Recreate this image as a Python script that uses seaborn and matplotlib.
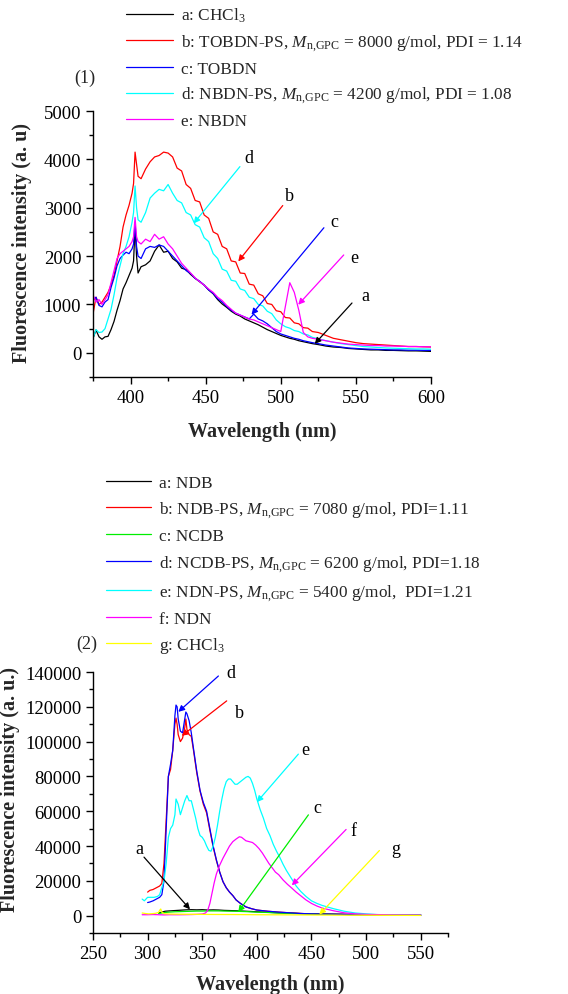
import numpy as np
import pandas as pd
import matplotlib
matplotlib.use("Agg")
import matplotlib.pyplot as plt
from matplotlib.ticker import MultipleLocator
import seaborn as sns

# ---------------- Panel (1) data ----------------
wl1 = [375, 377, 379, 381, 383, 385, 387, 389, 391, 393, 395, 397, 399, 401, 402, 403, 404, 405,
       407, 410, 413, 416, 419, 422, 425, 428, 431, 434, 437, 440, 443, 446, 449, 452, 455, 458,
       461, 464, 467, 470, 473, 476, 479, 482, 485, 488, 491, 494, 497, 500, 503, 506, 509, 512,
       515, 518, 521, 525, 530, 535, 540, 545, 550, 555, 560, 565, 570, 575, 580, 585, 590, 595, 600]

p1_a = [300, 470, 330, 280, 330, 340, 480, 650, 880, 1080, 1320, 1450, 1600, 1750, 1900, 2600, 2000, 1650,
        1780, 1820, 1900, 2100, 2230, 2080, 2100, 1950, 1880, 1750, 1720, 1620, 1540, 1470, 1400, 1300, 1220, 1100,
        1010, 940, 860, 800, 760, 700, 660, 620, 580, 530, 480, 440, 400, 360, 330, 300, 280, 250,
        230, 210, 190, 170, 140, 120, 110, 90, 80, 70, 60, 60, 50, 50, 45, 40, 40, 35, 30]
p1_b = [800, 1150, 1000, 1050, 1150, 1250, 1400, 1600, 1900, 2200, 2600, 2850, 3050, 3300, 3500, 4150, 3900, 3650,
        3600, 3800, 3950, 4050, 4080, 4150, 4130, 4050, 3820, 3760, 3480, 3400, 3150, 3120, 2850, 2780, 2500, 2450,
        2200, 2150, 1900, 1880, 1650, 1640, 1420, 1400, 1220, 1180, 1020, 1000, 870, 850, 730, 720, 620, 600,
        520, 510, 440, 420, 360, 300, 270, 240, 210, 190, 180, 170, 160, 150, 140, 130, 130, 125, 120]
p1_c = [1080, 1150, 980, 950, 1050, 1100, 1350, 1550, 1800, 1950, 2020, 2080, 2050, 2150, 2250, 2700, 2200, 2000,
        1950, 2150, 2200, 2180, 2230, 2200, 2100, 2000, 1900, 1800, 1700, 1640, 1540, 1480, 1400, 1300, 1230, 1120,
        1050, 960, 880, 820, 780, 740, 700, 800, 700, 660, 600, 520, 440, 390, 360, 330, 300, 280,
        250, 230, 210, 190, 160, 140, 120, 100, 90, 80, 75, 70, 65, 60, 60, 55, 55, 50, 50]
p1_d = [300, 480, 420, 430, 500, 700, 900, 1200, 1550, 1800, 2050, 2200, 2400, 2700, 2900, 3450, 3000, 2750,
        2700, 2900, 3200, 3300, 3380, 3350, 3480, 3300, 3150, 3100, 2900, 2850, 2650, 2600, 2380, 2300, 2050, 1950,
        1730, 1690, 1500, 1480, 1320, 1290, 1150, 1120, 1000, 970, 860, 810, 680, 600, 540, 510, 460, 440,
        390, 370, 320, 290, 250, 220, 190, 170, 150, 130, 120, 110, 100, 95, 90, 85, 80, 80, 75]
p1_e = [1200, 1050, 1100, 1000, 1100, 1200, 1450, 1700, 1950, 2050, 2100, 2150, 2200, 2300, 2400, 2800, 2400, 2300,
        2250, 2350, 2300, 2450, 2350, 2400, 2250, 2150, 2000, 1850, 1750, 1650, 1550, 1470, 1400, 1320, 1250, 1150,
        1080, 980, 900, 820, 780, 740, 700, 680, 640, 600, 560, 520, 480, 440, 950, 1450, 1250, 880,
        420, 330, 300, 280, 250, 220, 200, 180, 170, 160, 150, 150, 140, 140, 135, 130, 130, 125, 125]

labels1 = ["a: CHCl$_3$",
           "b: TOBDN-PS, $M_{\\mathrm{n{,}GPC}}$ = 8000 g/mol, PDI = 1.14",
           "c: TOBDN",
           "d: NBDN-PS, $M_{\\mathrm{n{,}GPC}}$ = 4200 g/mol, PDI = 1.08",
           "e: NBDN"]
colors1 = ["#000000", "#FF0000", "#0000FF", "#00FFFF", "#FF00FF"]

# ---------------- Panel (2) data ----------------
wl2_a = [310, 313, 316, 320, 325, 330, 335, 340, 345, 350, 355, 360, 365, 370, 380, 390, 400, 410,
         420, 430, 440, 450, 460, 480, 500, 525, 550]
p2_a = [1500, 2000, 2500, 2700, 2900, 3100, 3300, 3400, 3300, 3400, 3200, 3300, 3200, 3000, 2800, 2500, 2200, 1900,
        1600, 1400, 1200, 1000, 900, 700, 500, 400, 300]
p2_c = [1200, 1500, 1800, 2000, 2200, 2300, 2400, 2500, 2600, 2600, 2700, 2700, 2700, 2600, 2500, 2300, 2000, 1800,
        1500, 1300, 1100, 900, 800, 600, 450, 350, 250]

wl2_bd = [300, 302, 305, 308, 311, 313, 315, 317, 319, 321, 323, 325, 326, 327, 328, 330, 332, 334, 335, 336,
          338, 340, 342, 345, 348, 351, 354, 357, 360, 363, 366, 369, 372, 375, 378, 381, 385, 390, 395, 400,
          410, 420, 430, 440, 450, 460, 480, 500, 525, 550]
p2_b = [13500, 14500, 15000, 16000, 17000, 18500, 30000, 55000, 80000, 84000, 95000, 110000, 113500, 110000, 104000,
        100000, 102000, 108000, 113000, 107000, 104000, 103000, 95000, 82000, 71500, 64000, 59000, 49000, 39500,
        31500, 25000, 19500, 16000, 13500, 11500, 9000, 7000, 5000, 4000, 3200, 2500, 2000, 1600, 1200, 1000,
        900, 700, 500, 400, 300]
p2_d = [7500, 7800, 8500, 9500, 10500, 12000, 20000, 50000, 80000, 87000, 95000, 115000, 121000, 120000, 113000,
        106000, 105000, 113000, 117000, 116000, 112000, 105000, 96000, 83000, 72000, 65000, 60000, 50000, 40000,
        32000, 25000, 19500, 16000, 13500, 11500, 9000, 7000, 5000, 4000, 3200, 2500, 2000, 1600, 1200, 1000,
        900, 700, 500, 400, 300]

wl2_e = [295, 297, 300, 303, 306, 309, 311, 313, 315, 317, 319, 321, 323, 325, 326, 328, 330, 332, 334, 336,
         338, 340, 342, 344, 346, 348, 350, 352, 354, 356, 358, 360, 362, 364, 366, 368, 370, 372, 374, 376,
         378, 380, 382, 384, 386, 388, 390, 392, 394, 396, 398, 400, 403, 406, 409, 412, 415, 418, 421, 424,
         427, 430, 433, 436, 440, 445, 450, 455, 460, 470, 480, 490, 500, 510, 525, 550]
p2_e = [9500, 8500, 10500, 10500, 10500, 11000, 12000, 16000, 20000, 30000, 45000, 50000, 52000, 58000, 67000,
        64000, 58000, 62000, 66000, 69000, 66000, 66000, 61000, 56000, 50000, 46000, 45000, 43000, 40000, 37500,
        37000, 40000, 45000, 52000, 60000, 67000, 73000, 77000, 78500, 78500, 77000, 75500, 75500, 76500, 77500,
        78500, 79500, 80000, 79000, 76000, 72000, 67000, 61000, 56000, 50000, 46000, 41000, 37000, 33500, 29500,
        26000, 23000, 20000, 17000, 14000, 11000, 8500, 7000, 5800, 4000, 2500, 1500, 1000, 600, 400, 300]

wl2_f = [295, 300, 305, 310, 315, 320, 330, 340, 345, 350, 353, 355, 357, 359, 361, 363, 366, 369, 372, 375,
         378, 381, 384, 386, 388, 390, 393, 396, 399, 402, 405, 408, 411, 414, 417, 420, 424, 428, 432, 436,
         440, 445, 450, 455, 460, 470, 480, 490, 500, 525, 550]
p2_f = [500, 500, 600, 500, 400, 500, 500, 600, 700, 900, 1500, 3000, 7000, 13000, 19000, 24000, 29000, 33000,
        36500, 40000, 42500, 44000, 45300, 45000, 44000, 43000, 42500, 42000, 40500, 38500, 36000, 33000, 30000,
        27500, 25000, 23500, 20500, 18000, 15800, 13500, 11500, 9000, 7000, 5500, 4300, 2800, 1600, 1000, 700,
        400, 300]

wl2_g = [295, 298, 301, 304, 307, 310, 311, 312, 313, 315, 320, 330, 340, 350, 360, 380, 400, 420, 450, 480,
         500, 525, 550]
p2_g = [1500, 1200, 1000, 1100, 1300, 1800, 3000, 3800, 2000, 1100, 900, 800, 750, 700, 650, 600, 500, 450,
        350, 250, 200, 150, 100]

labels2 = ["a: NDB",
           "b: NDB-PS, $M_{\\mathrm{n{,}GPC}}$ = 7080 g/mol, PDI=1.11",
           "c: NCDB",
           "d: NCDB-PS, $M_{\\mathrm{n{,}GPC}}$ = 6200 g/mol, PDI=1.18",
           "e: NDN-PS, $M_{\\mathrm{n{,}GPC}}$ = 5400 g/mol,  PDI=1.21",
           "f: NDN",
           "g: CHCl$_3$"]
colors2 = ["#000000", "#FF0000", "#00EE00", "#0000FF", "#00FFFF", "#FF00FF", "#FFFF00"]

# ---------------- Style ----------------
sns.set_style("ticks")
plt.rcParams["font.family"] = ["Liberation Serif", "DejaVu Serif"]
plt.rcParams["mathtext.fontset"] = "custom"
plt.rcParams["mathtext.rm"] = "Liberation Serif"
plt.rcParams["mathtext.it"] = "Liberation Serif:italic"
plt.rcParams["mathtext.bf"] = "Liberation Serif:bold"

W, H = 568, 995
fig = plt.figure(figsize=(W / 100, H / 100), dpi=100)
ax1 = fig.add_axes([93 / W, 1 - 378 / H, (431 - 93) / W, (378 - 112) / H])
ax2 = fig.add_axes([93 / W, 1 - 934 / H, (448 - 93) / W, (934 - 673) / H])

TICK_FS = 13.5
LAB_FS = 14.5
LEG_FS = 12.4
ANN_FS = 13
LW = 0.9

# Panel 1 curves
series1 = [p1_a, p1_b, p1_c, p1_d, p1_e]
for ys, lab, col in zip(series1, labels1, colors1):
    df = pd.DataFrame({"wl": wl1, "I": ys})
    sns.lineplot(data=df, x="wl", y="I", color=col, lw=LW, ax=ax1, label=lab, sort=False)

# Panel 2 curves
series2 = [(wl2_a, p2_a), (wl2_bd, p2_b), (wl2_a, p2_c), (wl2_bd, p2_d), (wl2_e, p2_e), (wl2_f, p2_f), (wl2_g, p2_g)]
for (xs, ys), lab, col in zip(series2, labels2, colors2):
    df = pd.DataFrame({"wl": xs, "I": ys})
    sns.lineplot(data=df, x="wl", y="I", color=col, lw=LW, ax=ax2, label=lab, sort=False)

for ax in (ax1, ax2):
    sns.despine(ax=ax)
    for s in ("left", "bottom"):
        ax.spines[s].set_linewidth(1.0)
        ax.spines[s].set_color("black")
    ax.tick_params(which="major", direction="out", length=5, width=1, labelsize=TICK_FS, colors="black")
    ax.tick_params(which="minor", direction="out", length=3, width=1, colors="black")

ax1.set_xlim(375, 600)
ax1.set_ylim(-500, 5000)
ax1.xaxis.set_major_locator(MultipleLocator(50))
ax1.xaxis.set_minor_locator(MultipleLocator(25))
ax1.yaxis.set_major_locator(MultipleLocator(1000))
ax1.yaxis.set_minor_locator(MultipleLocator(500))

ax2.set_xlim(250, 575)
ax2.set_ylim(-10000, 140000)
ax2.xaxis.set_major_locator(MultipleLocator(50))
ax2.xaxis.set_minor_locator(MultipleLocator(25))
ax2.yaxis.set_major_locator(MultipleLocator(20000))
ax2.yaxis.set_minor_locator(MultipleLocator(10000))

ax1.set_xlabel("Wavelength (nm)", fontsize=LAB_FS, fontweight="bold")
ax1.set_ylabel("Fluorescence intensity (a. u)", fontsize=LAB_FS, fontweight="bold")
ax2.set_xlabel("Wavelength (nm)", fontsize=LAB_FS, fontweight="bold")
ax2.set_ylabel("Fluorescence intensity (a. u.)", fontsize=LAB_FS, fontweight="bold")
ax1.xaxis.set_label_coords(0.5, -(432 - 378) / 266)
ax1.yaxis.set_label_coords((22 - 93) / 338, (378 - 243) / 266)
ax2.xaxis.set_label_coords(0.5, -(985 - 934) / 261)
ax2.yaxis.set_label_coords((10 - 93) / 355, (934 - 790) / 261)
for ax in (ax1, ax2):
    ax.xaxis.label.set_va("center")
    ax.yaxis.label.set_va("center")

# Legends
h1, l1 = ax1.get_legend_handles_labels()
ax1.legend(h1, l1, loc="upper left", bbox_to_anchor=(126 / W, 1 - 7 / H), bbox_transform=fig.transFigure,
           frameon=False, fontsize=LEG_FS, handlelength=2.75, handletextpad=0.45, labelspacing=0.45,
           borderaxespad=0, borderpad=0)
h2, l2 = ax2.get_legend_handles_labels()
ax2.legend(h2, l2, loc="upper left", bbox_to_anchor=(106 / W, 1 - 476 / H), bbox_transform=fig.transFigure,
           frameon=False, fontsize=LEG_FS, handlelength=2.6, handletextpad=0.45, labelspacing=0.48,
           borderaxespad=0, borderpad=0)

fig.text(85 / W, 1 - 78 / H, "(1)", fontsize=ANN_FS, ha="center", va="center")
fig.text(87 / W, 1 - 644 / H, "(2)", fontsize=ANN_FS, ha="center", va="center")

# Annotations (letter, text pos, arrow tail, arrow tip, colour)
ann1 = [("d", (475.7, 4035), (472.8, 3850), (442, 2675), "#00FFFF"),
        ("b", (503, 3250), (501.3, 3045), (471.7, 1890), "#FF0000"),
        ("c", (533, 2716), (528.7, 2586), (480.5, 788), "#0000FF"),
        ("e", (546, 1975), (541.9, 2023), (511.6, 994), "#FF00FF"),
        ("a", (553.6, 1193), (547.4, 1030), (522.6, 185), "#000000")]
ann2 = [("d", (371.8, 139600), (364.8, 137700), (328.1, 117100), "#0000FF"),
        ("b", (380, 116700), (372.4, 123400), (331.2, 103300), "#FF0000"),
        ("e", (441, 95700), (438, 92800), (400, 65200), "#00FFFF"),
        ("c", (451.8, 62300), (447.2, 57900), (383, 2100), "#00EE00"),
        ("f", (485.3, 48900), (481.7, 49500), (432, 17400), "#FF00FF"),
        ("g", (523.5, 38800), (512.2, 37400), (457.2, 600), "#FFFF00"),
        ("a", (288.5, 38400), (296.7, 33600), (338.8, 3600), "#000000")]
for ax, anns in ((ax1, ann1), (ax2, ann2)):
    for letter, tpos, tail, tip, col in anns:
        ax.annotate("", xy=tip, xytext=tail, annotation_clip=False,
                    arrowprops=dict(arrowstyle="-|>", color=col, lw=0.9, mutation_scale=9,
                                    shrinkA=0, shrinkB=0))
        ax.text(tpos[0], tpos[1], letter, fontsize=ANN_FS, ha="left", va="center", color="black")

fig.savefig("out.png", dpi=100)
